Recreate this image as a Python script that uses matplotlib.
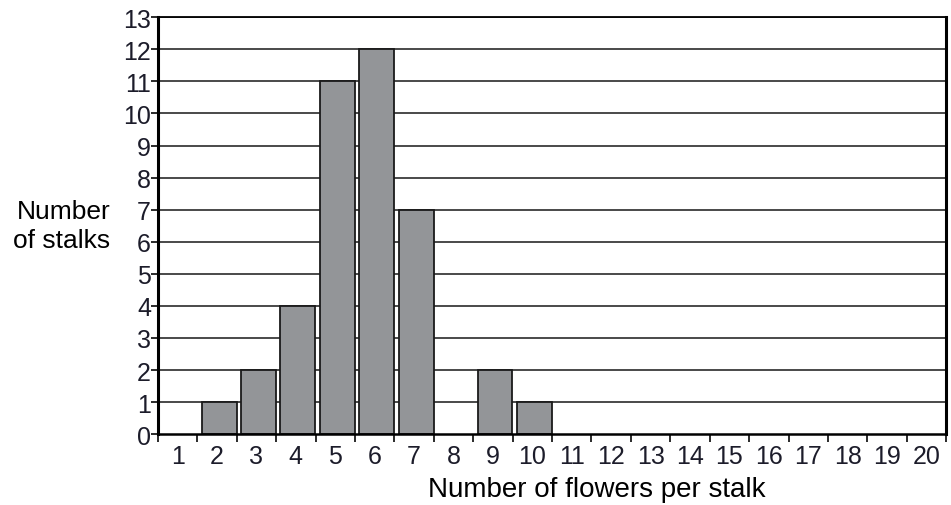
import numpy as np
import matplotlib.pyplot as plt

plt.rcParams['font.family'] = ['Liberation Sans', 'DejaVu Sans']

# flowers per stalk and number of stalks
flowers = list(range(1, 21))
stalks = [0, 1, 2, 4, 11, 12, 7, 0, 2, 1, 0, 0, 0, 0, 0, 0, 0, 0, 0, 0]
y_ticks = list(range(0, 14))

fig = plt.figure(figsize=(9.51, 5.06), dpi=100)
ax = fig.add_axes([0.166, 0.140, 0.829, 0.824])

# horizontal grid lines behind bars
for v in y_ticks[1:]:
    ax.axhline(v, color='#3a3a3a', lw=1.3, zorder=1)

x = np.array(flowers)
h = np.array(stalks)
mask = h > 0
ax.bar(x[mask] - 0.39, h[mask], width=0.885, align='edge',
       color='#939598', edgecolor='#1a1a1a', linewidth=1.3, zorder=2)

ax.set_xlim(0.5, 20.5)
ax.set_ylim(0, 13)

ax.set_xticks(flowers)
ax.set_xticklabels([str(f) for f in flowers])
ax.set_xticks(np.arange(0.5, 21, 1), minor=True)
ax.tick_params(axis='x', which='major', length=0, labelsize=18, pad=7, colors='#1c1c2a')
ax.tick_params(axis='x', which='minor', length=6, width=1.3, direction='out', colors='#1a1a1a')

ax.set_yticks(y_ticks)
ax.tick_params(axis='y', length=5, width=1.3, labelsize=18, pad=0, colors='#1a1a1a',
               labelcolor='#1c1c2a')

for s in ['left', 'right']:
    ax.spines[s].set_linewidth(2.2)
ax.spines['top'].set_linewidth(1.3)
ax.spines['bottom'].set_linewidth(1.8)

# axis titles placed as in the original layout
fig.text(0.628, 0.032, 'Number of flowers per stalk', fontsize=20, ha='center', va='center')
fig.text(0.116, 0.553, 'Number\nof stalks', fontsize=19, ha='right', va='center',
         multialignment='right', linespacing=1.25)

fig.savefig('out.png', dpi=100)
